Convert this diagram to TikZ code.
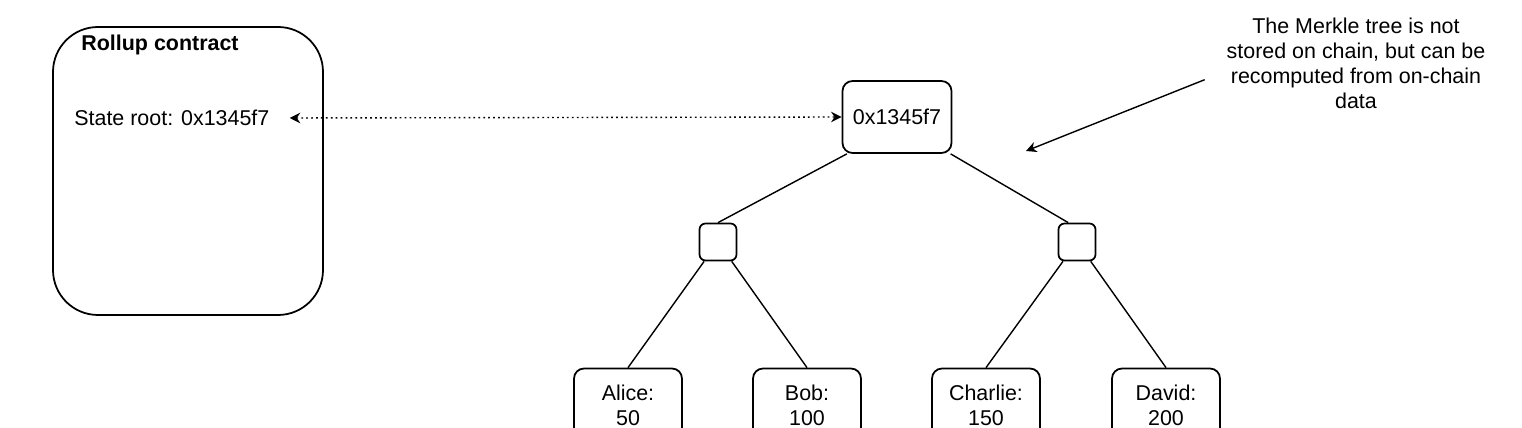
\documentclass[tikz,border=0pt]{standalone}
\usepackage{fontspec}
\setmainfont{Liberation Sans}
\usetikzlibrary{arrows.meta}

\begin{document}
\begin{tikzpicture}[x=0.02cm, y=-0.02cm,
  every node/.style={font=\fontsize{12.2}{14.2}\selectfont},
  box/.style={draw, line width=1pt, rounded corners=0.2cm, align=center, inner sep=0pt},
  hash/.style={box, minimum width=2.18cm, minimum height=1.44cm},
  inner/.style={box, rounded corners=0.12cm, minimum size=0.74cm},
  leaf/.style={box, minimum width=2.16cm, minimum height=1.46cm},
  edge/.style={line width=0.8pt},
  head/.tip={Stealth[length=6pt, width=6pt]}]
  \useasboundingbox (0,0) rectangle (1522,428);
  % Rollup contract
  \draw[line width=1pt, rounded corners=0.9cm] (53,27) rectangle (323,315);
  \node[font=\fontsize{12.2}{14.2}\selectfont\bfseries] (title) at (160,45) {Rollup contract};
  \node[anchor=west, inner sep=0pt] (state) at (74,118) {State root: 0x1345f7};
  % Merkle tree
  \node[hash] (root) at (897,117) {0x1345f7};
  \node[inner] (left) at (718,242) {};
  \node[inner] (right) at (1077,242) {};
  \node[leaf] (alice) at (628,405) {Alice:\\50};
  \node[leaf] (bob) at (807,405) {Bob:\\100};
  \node[leaf] (charlie) at (986,405) {Charlie:\\150};
  \node[leaf] (david) at (1166,405) {David:\\200};
  \draw[edge] ([xshift=3pt]root.south west) -- (left.north);
  \draw[edge] ([xshift=-1pt]root.south east) -- ([xshift=-5pt]right.north);
  \draw[edge] (left) -- (alice.north);
  \draw[edge] (left) -- (bob.north);
  \draw[edge] (right) -- (charlie.north);
  \draw[edge] (right) -- (david.north);
  % Link
  \draw[edge, dash pattern=on 1pt off 1.8pt, {head}-{head}] ([xshift=0.4cm]state.east) -- (root.west);
  % Note
  \node[align=center] (note) at (1356,63) {The Merkle tree is not\\stored on chain, but can be\\recomputed from on-chain\\data};
  \coordinate (target) at (1026,151);
  \draw[edge, -{head}] ([xshift=-9pt, yshift=-9.5pt]note.west) -- (target);
\end{tikzpicture}
\end{document}
